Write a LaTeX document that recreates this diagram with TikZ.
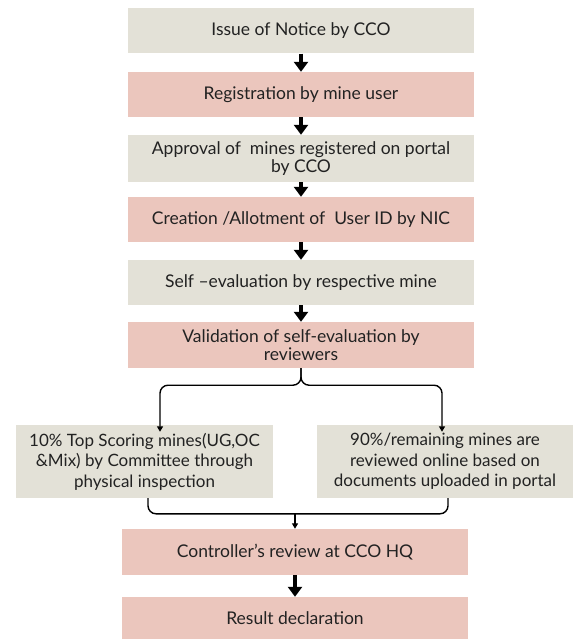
\documentclass[tikz,border=0pt]{standalone}
\usepackage{fontspec}
\setmainfont{Lato}
\usepackage{tikz}
\usetikzlibrary{arrows.meta}
\definecolor{stepgrey}{HTML}{E3E1D7}
\definecolor{steppink}{HTML}{EBC6BD}
\definecolor{inkdark}{HTML}{222222}

\begin{document}
\begin{tikzpicture}[x=1pt, y=-1pt,
  box/.style={minimum width=346pt, minimum height=45pt, inner sep=0pt, align=center,
    text=inkdark, font=\fontsize{17.5}{18.5}\selectfont},
  grey/.style={box, fill=stepgrey},
  pink/.style={box, fill=steppink},
  side/.style={grey, minimum width=257pt, minimum height=73pt, font=\fontsize{17}{20.5}\selectfont},
  flow/.style={line width=3.5pt, -{Triangle[width=14pt,length=10pt]}},
  branch/.style={line width=1.4pt, rounded corners=8pt, -{Triangle[width=6pt,length=5.5pt]}}]
\useasboundingbox (0,0) rectangle (575,639);
\node[grey] (notice) at (301,31) {Issue of Notice by CCO};
\node[pink] (regist) at (301,94.5) {Registration by mine user};
\node[grey, minimum height=47pt] (approv) at (301,158.5) {Approval of \ mines registered on portal\\by CCO};
\node[pink] (userid) at (301,219.5) {Creation /Allotment of \ User ID by NIC};
\node[grey] (selfev) at (301,282.5) {Self --evaluation by respective mine};
\node[pink, minimum height=46pt] (valid) at (301,345) {Validation of self-evaluation by\\reviewers};
\node[side] (topten) at (144.5,461.5) {10\% Top Scoring mines(UG,OC\\\&Mix) by Committee through\\physical inspection};
\node[side, minimum width=256pt] (remain) at (445,461.5) {90\%/remaining mines are\\reviewed online based on\\documents uploaded in portal};
\node[pink, minimum height=46pt] (review) at (295,552) {Controller's review at CCO HQ};
\node[pink, minimum height=43pt] (result) at (295,618.5) {Result declaration};

\draw[flow] (notice) -- (regist);
\draw[flow] (regist) -- (approv);
\draw[flow] (approv) -- (userid);
\draw[flow] (userid) -- (selfev);
\draw[flow] (selfev) -- (valid);
\draw[branch] (valid.south) -- ++(0,17) -| ([xshift=15.5pt, yshift=-7pt]topten.north);
\draw[branch] (valid.south) -- ++(0,17) -| ([xshift=-3pt, yshift=-7pt]remain.north);
\coordinate (join) at ([yshift=15pt]review.north);
\draw[line width=1.4pt, rounded corners=8pt] ([xshift=3.5pt]topten.south) |- (join) -| ([xshift=3pt]remain.south);
\draw[branch] (join) -- (review);
\draw[flow] (review) -- (result);
\end{tikzpicture}
\end{document}
